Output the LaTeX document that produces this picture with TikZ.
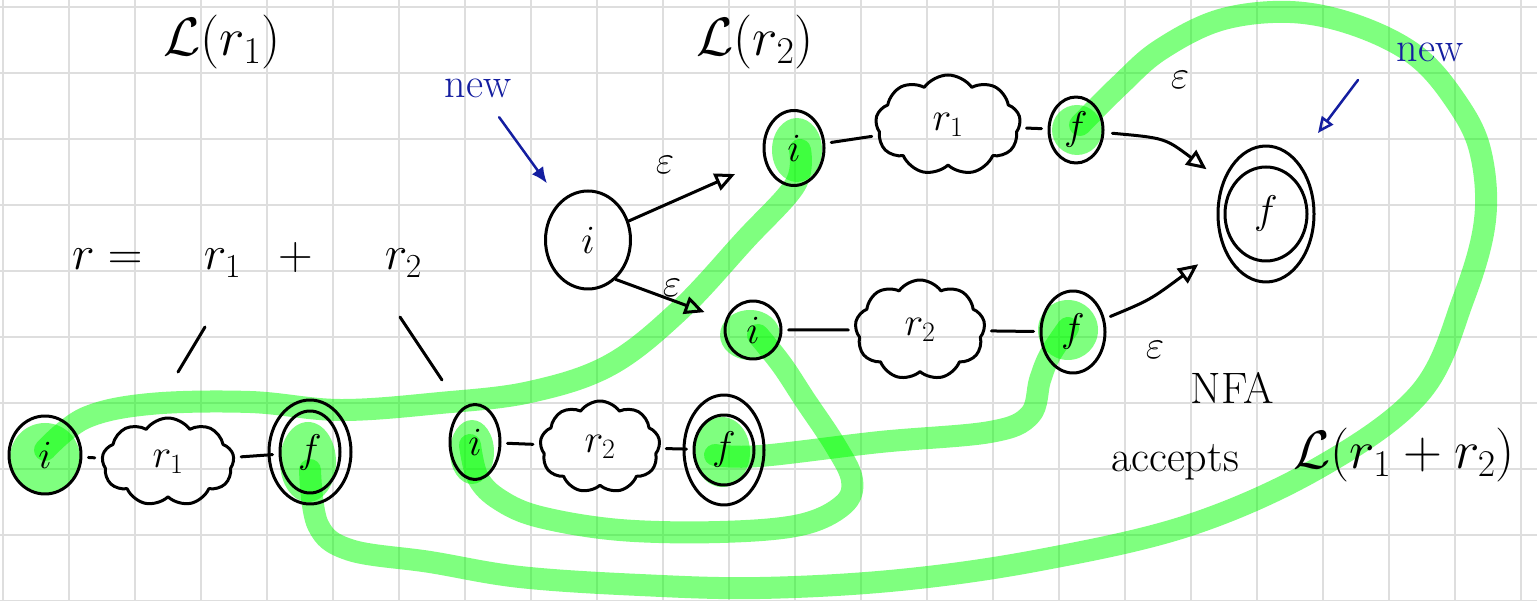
\RequirePackage{fix-cm}
\documentclass[tikz,border=0pt]{standalone}
\usetikzlibrary{arrows.meta,shapes.geometric,shapes.symbols}
\definecolor{inkblue}{RGB}{20,30,160}
\definecolor{gridgray}{RGB}{222,222,222}
\begin{document}
\begin{tikzpicture}[x=1pt, y=-1pt,
	pen/.style = {line width=3pt, line cap=round, line join=round},
	state/.style = {pen, draw, ellipse, inner sep=0pt, font=\fontsize{40}{44}\selectfont},
	blob/.style = {pen, draw, cloud, cloud puffs=9, cloud puff arc=110, cloud ignores aspect, inner sep=0pt, font=\fontsize{40}{44}\selectfont},
	link/.style = {pen, shorten <=6pt, shorten >=6pt},
	eps/.style = {pen, -{Triangle[open, length=20pt, width=18pt]}},
	txt/.style = {font=\fontsize{40}{44}\selectfont},
	newtxt/.style = {text=inkblue, font=\fontsize{42}{46}\selectfont},
	newarr/.style = {draw=inkblue, line width=2.5pt, line cap=round},
	hl/.style = {line width=22pt, draw=green, draw opacity=0.5, line cap=round, line join=round},
	hlfill/.style = {fill=green, fill opacity=0.5}]
	\useasboundingbox (0,0) rectangle (1537,601);
	\fill[white] (0,0) rectangle (1537,601);
	\foreach \gx in {3,69,...,1521} \draw[gridgray, line width=2pt] (\gx,0) -- (\gx,601);
	\foreach \gy in {7,73,...,601} \draw[gridgray, line width=2pt] (0,\gy) -- (1537,\gy);

	\fill[hlfill] (45,458) ellipse [x radius=35pt, y radius=35pt];
	\fill[hlfill] (308,462) ellipse [x radius=28pt, y radius=40pt];
	\fill[hlfill] (797,150) ellipse [x radius=25pt, y radius=32pt];
	\fill[hlfill] (472,452) ellipse [x radius=22pt, y radius=32pt];
	\fill[hlfill] (722,452) ellipse [x radius=28pt, y radius=35pt];
	\fill[hlfill] (750,335) ellipse [x radius=30pt, y radius=25pt];
	\fill[hlfill] (1068,330) ellipse [x radius=30pt, y radius=30pt];
	\fill[hlfill] (1077,130) ellipse [x radius=25pt, y radius=25pt];
	\draw[hl] plot[smooth, tension=0.6] coordinates {(45,450) (85,418) (150,404) (250,402) (340,410) (440,403) (530,392) (610,365) (680,310) (745,240) (795,185) (800,150)};
	\draw[hl] plot[smooth, tension=0.6] coordinates {(310,470) (318,525) (350,550) (430,562) (520,577) (640,585) (760,588) (900,580) (1040,560) (1190,525) (1320,467) (1420,393) (1463,300) (1485,220) (1480,150) (1455,100) (1415,55) (1355,25) (1290,12) (1220,20) (1160,50) (1120,85) (1080,125)};
	\draw[hl] plot[smooth, tension=0.6] coordinates {(470,445) (478,478) (500,500) (540,517) (620,530) (720,532) (800,525) (843,505) (852,480) (835,445) (805,400) (782,365) (758,335)};
	\draw[hl] plot[smooth, tension=0.6] coordinates {(715,455) (760,456) (880,442) (990,432) (1030,415) (1040,380) (1050,355) (1068,328)};

	\node[txt, font=\fontsize{54}{60}\selectfont] (lr1) at (222,42) {$\mathcal{L}(r_1)$};
	\node[txt, font=\fontsize{54}{60}\selectfont] (lr2) at (755,42) {$\mathcal{L}(r_2)$};
	\node[txt, font=\fontsize{48}{52}\selectfont] (expr) at (247,260) {$r = \quad r_1 \;\;+\;\quad r_2$};
	\draw[pen] (205,327) -- (178,372);
	\draw[pen] (400,317) -- (442,380);

	\node[state, minimum width=72pt, minimum height=78pt] (li) at (45,455) {$i$};
	\node[blob, minimum width=132pt, minimum height=88pt] (lc) at (168,462) {$r_1$};
	\node[state, minimum width=60pt, minimum height=82pt] (lf) at (310,452) {$f$};
	\draw[pen] (lf.center) ellipse [x radius=41pt, y radius=52pt];
	\draw[link] (li) -- (lc);
	\draw[link] (lc) -- (lf);

	\node[state, minimum width=50pt, minimum height=75pt] (si) at (475,442) {$i$};
	\node[blob, minimum width=120pt, minimum height=92pt] (sc) at (600,447) {$r_2$};
	\node[state, minimum width=60pt, minimum height=70pt] (sf) at (724,450) {$f$};
	\draw[pen] (sf.center) ellipse [x radius=40pt, y radius=55pt];
	\draw[link] (si) -- (sc);
	\draw[link] (sc) -- (sf);

	\node[state, minimum width=85pt, minimum height=98pt] (start) at (588,240) {$i$};
	\node[state, minimum width=60pt, minimum height=75pt] (ui) at (794,148) {$i$};
	\node[blob, minimum width=145pt, minimum height=100pt] (uc) at (948,125) {$r_1$};
	\node[state, minimum width=54pt, minimum height=66pt] (uf) at (1076,130) {$f$};
	\node[state, minimum width=56pt, minimum height=58pt] (wi) at (753,330) {$i$};
	\node[blob, minimum width=130pt, minimum height=100pt] (wc) at (920,330) {$r_2$};
	\node[state, minimum width=64pt, minimum height=82pt] (wf) at (1073,332) {$f$};
	\node[state, minimum width=82pt, minimum height=94pt] (fin) at (1266,214) {$f$};
	\draw[pen] (fin.center) ellipse [x radius=48pt, y radius=68pt];
	\draw[link] (ui) -- (uc);
	\draw[link] (uc) -- (uf);
	\draw[link] (wi) -- (wc);
	\draw[link] (wc) -- (wf);

	\draw[eps, shorten >=32pt] (start.25) -- (ui);
	\draw[eps, shorten >=22pt] (start.-55) -- (wi);
	\draw[eps, shorten <=8pt, shorten >=30pt] (uf) .. controls (1165,138) .. (fin);
	\draw[eps, shorten <=6pt, shorten >=40pt] (wf) .. controls (1150,300) .. (fin);
	\node[txt] (eps1) at (665,165) {$\varepsilon$};
	\node[txt] (eps2) at (672,288) {$\varepsilon$};
	\node[txt] (eps3) at (1180,80) {$\varepsilon$};
	\node[txt] (eps4) at (1155,350) {$\varepsilon$};

	\node[newtxt] (newl) at (478,88) {new};
	\node[newtxt] (newr) at (1430,52) {new};
	\coordinate (newrtail) at (1358,80);
	\coordinate (newrtip) at (1318,133);
	\draw[newarr, -{Latex[length=16pt, width=14pt]}, shorten <=20pt, shorten >=22pt] (newl) -- (start);
	\draw[newarr, -{Triangle[open, length=16pt, width=14pt]}] (newrtail) -- (newrtip);

	\node[txt, font=\fontsize{44}{48}\selectfont] (nfa) at (1232,388) {NFA};
	\node[txt, font=\fontsize{44}{48}\selectfont] (acc) at (1175,462) {accepts};
	\node[txt, font=\fontsize{54}{60}\selectfont] (lang) at (1404,455) {$\mathcal{L}(r_1+r_2)$};
\end{tikzpicture}
\end{document}
